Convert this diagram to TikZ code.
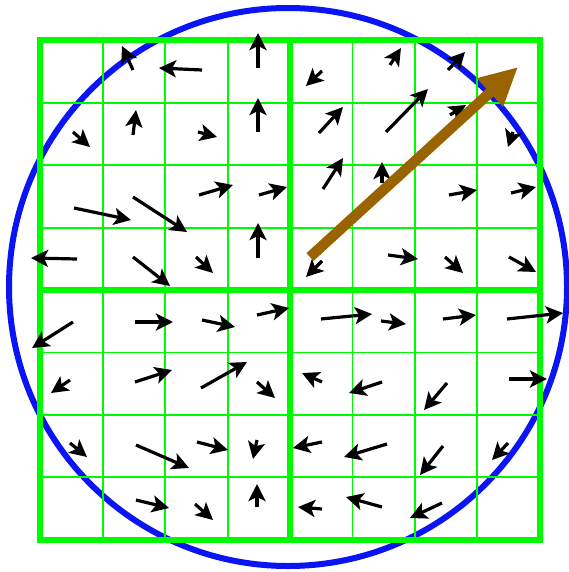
\documentclass[tikz,border=0pt]{standalone}
\usetikzlibrary{arrows.meta}
\definecolor{gridgreen}{RGB}{0,250,0}
\definecolor{circblue}{RGB}{10,20,245}
\definecolor{brownarr}{RGB}{153,100,0}
\tikzset{
  thingrid/.style={draw=gridgreen, line width=1.8pt},
  thickgrid/.style={draw=gridgreen, line width=6pt},
  vec/.style={black, line width=3.2pt, -{Stealth[length=17pt,width=17pt,inset=4pt]}},
  bigvec/.style={brownarr, line width=10.5pt, -{Triangle[length=38pt,width=36pt]}}
}
\begin{document}
\begin{tikzpicture}[x=1pt,y=-1pt]
\useasboundingbox (0,0) rectangle (569,572);
% circle
\draw[circblue, line width=6pt] (288,287) circle (279);
% grid
\foreach \i in {1,2,3,5,6,7}{
  \draw[thingrid] (40.4+62.4*\i,40.4) -- (40.4+62.4*\i,539.6);
  \draw[thingrid] (40.4,40.4+62.4*\i) -- (539.6,40.4+62.4*\i);
}
\draw[thickgrid] (40.4,40.4) rectangle (539.6,539.6);
\draw[thickgrid] (290,40.4) -- (290,539.6);
\draw[thickgrid] (40.4,290) -- (539.6,290);
% vectors (tail -> tip)
\foreach \a/\b/\c/\d in {
  133/70/122/46, 202/70/159/68, 258/68/258/33,
  73/132/90/147, 133/135/136/110, 198/132/217/137, 258/132/258/98,
  199/195/233/185, 259/195/287/187, 74/208/131/220, 133/197/187/232,
  258/258/258/223, 77/259/31/258, 133/257/170/286, 196/257/213/273,
  322/71/306/86, 390/65/401/48, 448/70/465/52,
  319/133/343/107, 386/132/428/89, 450/115/466/105, 513/132/508/147,
  323/189/343/158, 382/183/382/162, 449/195/477/190, 511/193/536/187,
  322/261/306/277, 388/255/418/259, 445/257/463/273, 509/257/536/272,
  73/322/32/348, 135/322/173/322, 202/320/235/327, 257/315/289/308,
  135/382/172/370, 201/388/247/362, 257/382/275/398, 70/380/51/393,
  70/443/87/457, 136/445/189/468, 197/442/228/450, 257/440/253/459,
  136/500/169/508, 195/504/213/520, 257/507/257/484,
  321/319/372/314, 381/321/406/324, 443/319/476/315, 507/319/563/313,
  322/382/302/373, 382/382/349/393, 447/383/424/410, 509/379/547/379,
  322/442/293/448, 387/444/344/457, 443/446/420/475, 508/443/492/460,
  322/509/298/507, 382/507/346/497, 442/503/410/518}{
  \draw[vec] (\a,\b) -- (\c,\d);
}
% big arrow
\draw[bigvec] (310,257) -- (518,67);
\end{tikzpicture}
\end{document}
